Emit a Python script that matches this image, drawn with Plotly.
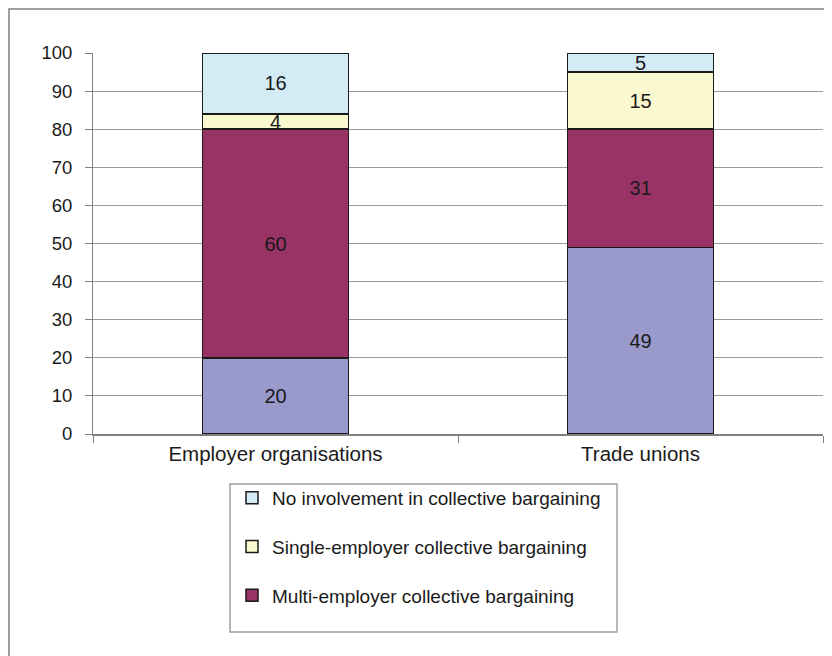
import plotly.graph_objects as go

categories = ["Employer organisations", "Trade unions"]
series_names = [
    "Other",
    "Multi-employer collective bargaining",
    "Single-employer collective bargaining",
    "No involvement in collective bargaining",
]
bottom_vals = [20, 49]
multi_vals = [60, 31]
single_vals = [4, 15]
none_vals = [16, 5]
colors = ["#9999CC", "#993366", "#FAF8CF", "#D3EBF5"]
legend_ranks = [4, 3, 2, 1]
yticks = list(range(0, 101, 10))

FONT = "Liberation Sans, Arial, sans-serif"
TICK_FS = 18.5
CAT_FS = 20.5
LEG_FS = 19
LBL_FS = 20

# the page has an 8px body margin; work in reference pixels and shift
OFF = 8
W, H = 832 - OFF, 656 - OFF
L, R, T, B = 93 - OFF, 823 - OFF, 53 - OFF, 434 - OFF
pw, ph = R - L, B - T


def px(x):
    return (x - OFF - L) / pw


def py(y):
    return (B - (y - OFF)) / ph


fig = go.Figure()
all_vals = [bottom_vals, multi_vals, single_vals, none_vals]
for i, (name, vals, col, rk) in enumerate(zip(series_names, all_vals, colors, legend_ranks)):
    fig.add_trace(go.Bar(
        x=categories, y=vals, name=name,
        marker=dict(color=col, line=dict(color="#1a1a1a", width=1.5)),
        text=[str(v) for v in vals], textposition="inside",
        insidetextanchor="middle", textangle=0, constraintext="none",
        textfont=dict(family=FONT, size=LBL_FS, color="#1a1a1a"),
        showlegend=(i != 0), legendgroup=f"g{i}", legendrank=rk,
        width=0.4,
    ))

fig.update_layout(
    width=W, height=H,
    margin=dict(l=L, r=W - R, t=T, b=H - B),
    barmode="stack",
    paper_bgcolor="white", plot_bgcolor="white",
    font=dict(family=FONT, size=TICK_FS, color="#1a1a1a"),
    legend=dict(
        x=px(232), y=py(479), xanchor="left", yanchor="top",
        xref="paper", yref="paper",
        traceorder="grouped", tracegroupgap=21,
        font=dict(family=FONT, size=LEG_FS, color="#1a1a1a"),
        bgcolor="rgba(0,0,0,0)", borderwidth=0,
    ),
    xaxis=dict(
        showline=True, linecolor="#808080", linewidth=2,
        ticks="outside", tickson="boundaries", ticklen=7, tickcolor="#808080",
        tickfont=dict(family=FONT, size=CAT_FS, color="#1a1a1a"),
        showgrid=False,
    ),
    yaxis=dict(
        range=[0, 100], tickvals=yticks,
        showline=True, linecolor="#808080", linewidth=1,
        ticks="outside", ticklen=7, tickcolor="#808080",
        ticklabelstandoff=9,
        showgrid=True, gridcolor="#9a9a9a", gridwidth=1,
        tickfont=dict(family=FONT, size=TICK_FS, color="#1a1a1a"),
        zeroline=False,
    ),
    shapes=[
        # outer chart border (top and left visible)
        dict(type="rect", xref="paper", yref="paper",
             x0=px(9), y0=py(720), x1=px(900), y1=py(9),
             line=dict(color="#808080", width=1.5), layer="below"),
        # legend box
        dict(type="rect", xref="paper", yref="paper",
             x0=px(230), y0=py(632), x1=px(617), y1=py(484),
             line=dict(color="#a0a0a0", width=1.5)),
    ],
)

fig.write_html("out.html")
